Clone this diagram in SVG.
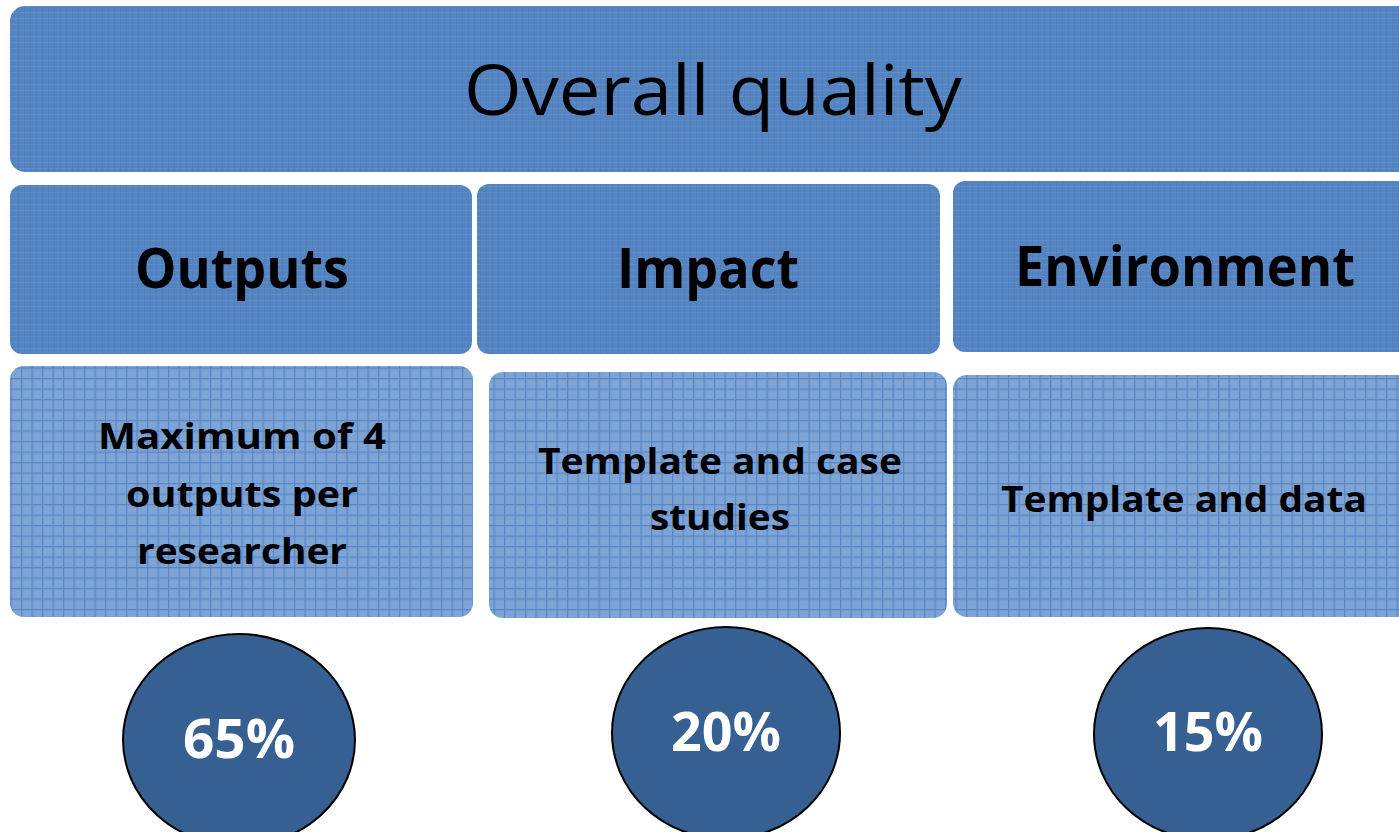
<svg xmlns="http://www.w3.org/2000/svg" width="1399" height="832" viewBox="0 0 1399 832">
<defs>
<pattern id="fine" width="6" height="6" patternUnits="userSpaceOnUse">
<rect width="6" height="6" fill="#5484c1"/>
<rect y="0" width="6" height="1" fill="#6a94cb" opacity="0.6"/>
<rect x="0" width="1" height="6" fill="#4a7bb9" opacity="0.5"/>
</pattern>
<pattern id="grid" width="10.5" height="10.5" patternUnits="userSpaceOnUse">
<rect width="10.5" height="10.5" fill="#7ea3d5"/>
<rect width="10.5" height="1.2" fill="#5887c6"/>
<rect width="1.2" height="10.5" fill="#5887c6"/>
</pattern>
<style>
.hdr{fill:url(#fine)}
.det{fill:url(#grid)}
.t{font-family:"Open Sans","Liberation Sans",sans-serif;fill:#000;text-anchor:middle}
.b{font-weight:bold}
.pct{font-family:"Open Sans","Liberation Sans",sans-serif;font-weight:bold;fill:#fff;text-anchor:middle;font-size:54px}
.circ{fill:#376092;stroke:#000;stroke-width:2}
</style>
</defs>
<rect width="1399" height="832" fill="#fff"/>
<g id="overall">
<rect class="hdr" x="10" y="6" width="1410" height="166" rx="15"/>
<text class="t" x="713" y="115" font-size="70" textLength="498" lengthAdjust="spacingAndGlyphs">Overall quality</text>
</g>
<g id="outputs">
<rect class="hdr" x="10" y="185" width="462" height="169" rx="12"/>
<text class="t b" x="242" y="288" font-size="56" textLength="214" lengthAdjust="spacingAndGlyphs">Outputs</text>
</g>
<g id="impact">
<rect class="hdr" x="477" y="184" width="463" height="170" rx="12"/>
<text class="t b" x="708" y="288" font-size="56" textLength="182" lengthAdjust="spacingAndGlyphs">Impact</text>
</g>
<g id="environment">
<rect class="hdr" x="953" y="181" width="470" height="171" rx="12"/>
<text class="t b" x="1185" y="286" font-size="56" textLength="340" lengthAdjust="spacingAndGlyphs">Environment</text>
</g>
<g id="outputs-detail">
<rect class="det" x="10" y="366" width="463" height="251" rx="14"/>
<text class="t b" x="242" y="449" font-size="36" textLength="288" lengthAdjust="spacingAndGlyphs">Maximum of 4</text>
<text class="t b" x="242" y="507" font-size="36" textLength="232" lengthAdjust="spacingAndGlyphs">outputs per</text>
<text class="t b" x="242" y="564" font-size="36" textLength="210" lengthAdjust="spacingAndGlyphs">researcher</text>
</g>
<g id="impact-detail">
<rect class="det" x="489" y="372" width="458" height="246" rx="14"/>
<text class="t b" x="720" y="474" font-size="36" textLength="364" lengthAdjust="spacingAndGlyphs">Template and case</text>
<text class="t b" x="720" y="530" font-size="36" textLength="140" lengthAdjust="spacingAndGlyphs">studies</text>
</g>
<g id="environment-detail">
<rect class="det" x="953" y="375" width="470" height="242" rx="14"/>
<text class="t b" x="1184" y="512" font-size="36" textLength="366" lengthAdjust="spacingAndGlyphs">Template and data</text>
</g>
<g id="pct65">
<ellipse class="circ" cx="239" cy="740" rx="116" ry="106"/>
<text class="pct" x="239" y="758" textLength="112" lengthAdjust="spacingAndGlyphs">65%</text>
</g>
<g id="pct20">
<ellipse class="circ" cx="726" cy="733" rx="114" ry="106"/>
<text class="pct" x="726" y="751" textLength="110" lengthAdjust="spacingAndGlyphs">20%</text>
</g>
<g id="pct15">
<ellipse class="circ" cx="1208" cy="734" rx="114" ry="106"/>
<text class="pct" x="1208" y="751" textLength="110" lengthAdjust="spacingAndGlyphs">15%</text>
</g>
<g id="connectors"/>
</svg>
